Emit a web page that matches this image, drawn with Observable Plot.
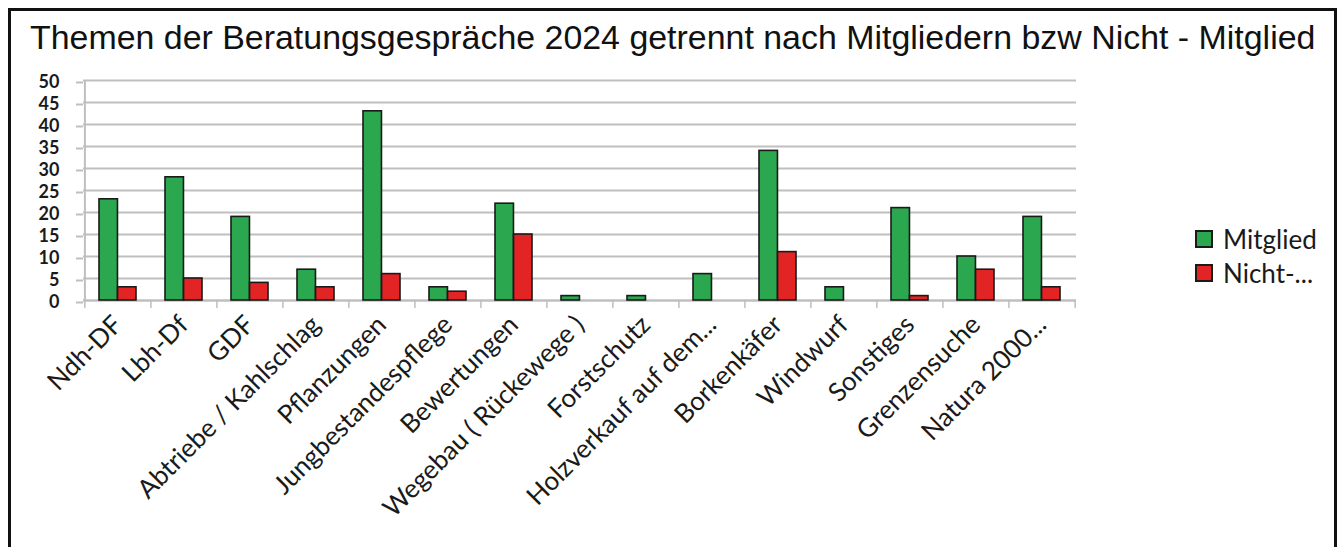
<!DOCTYPE html>
<html><head><meta charset="utf-8">
<script src="https://cdn.jsdelivr.net/npm/d3@7"></script>
<script src="https://cdn.jsdelivr.net/npm/@observablehq/plot@0.6"></script>
<style>
body{margin:0;background:#fff;}
#frame{position:relative;width:1340px;height:547px;overflow:hidden;background:#fff;}
#border{position:absolute;left:8px;top:8px;width:1329px;height:600px;border:3px solid #111;box-sizing:border-box;}
#title{position:absolute;left:30px;top:25px;font-family:"Liberation Sans",Arial,sans-serif;font-size:29px;line-height:29px;color:#111;white-space:nowrap;}
#chart{position:absolute;left:0;top:0;}
#legend{position:absolute;left:1195px;top:222px;font-family:Lato,sans-serif;font-size:26px;color:#1a1a1a;}
.item{display:flex;align-items:center;height:34px;}
.sw{width:14px;height:14px;border:2px solid #1a1a1a;margin-right:10px;}
</style>
</head><body>
<div id="frame">
  <div id="border"></div>
  <div id="title"></div>
  <div id="chart"></div>
  <div id="legend"></div>
</div>
<script>
const titleText = "Themen der Beratungsgespräche 2024 getrennt nach Mitgliedern bzw Nicht - Mitglied";
const categories = ["Ndh-DF","Lbh-Df","GDF","Abtriebe / Kahlschlag","Pflanzungen","Jungbestandespflege","Bewertungen","Wegebau ( Rückewege )","Forstschutz","Holzverkauf auf dem...","Borkenkäfer","Windwurf","Sonstiges","Grenzensuche","Natura 2000..."];
const mitglied      = [23,28,19,7,43,3,22,1,1,6,34,3,21,10,19];
const nichtMitglied = [3,5,4,3,6,2,15,0,0,0,11,0,1,7,3];
const seriesNames = ["Mitglied","Nicht-..."];
const seriesColors = ["#2ba84f","#e22424"];
const yTicks = [0,5,10,15,20,25,30,35,40,45,50];

// title, fitted to the reference width
const tEl = document.getElementById("title");
tEl.textContent = titleText;
const cvs = document.createElement("canvas").getContext("2d");
cvs.font = "29px 'Liberation Sans'";
const tw = cvs.measureText(titleText).width;
const fs = 29 * 1286 / tw;
tEl.style.fontSize = fs + "px";
tEl.style.lineHeight = fs + "px";
tEl.style.top = (50 - 0.8465 * fs) + "px";

const W = 1340, H = 547, mL = 83, mR = 264, mT = 80, mB = 247;
const step = (W - mL - mR) / categories.length;
const pad = 0.44;
const bw = step * (1 - pad);

const rows = categories.map((c, i) => ({category: c, m: mitglied[i], n: nichtMitglied[i]}));
const ink = "#1a1a1a", grid = "#bfbfbf";

const chart = Plot.plot({
  width: W, height: H,
  marginLeft: mL, marginRight: mR, marginTop: mT, marginBottom: mB,
  style: {fontFamily: "Lato, sans-serif", background: "transparent"},
  x: {domain: categories, paddingInner: pad, paddingOuter: pad / 2, axis: null},
  y: {domain: [0, 50], axis: null},
  marks: [
    Plot.gridY(yTicks, {stroke: grid, strokeOpacity: 1, strokeWidth: 2}),
    Plot.axisY(yTicks, {tickSize: 7, tickPadding: 17, stroke: grid, strokeWidth: 2, fill: ink, fontSize: 18, fontWeight: 700, dy: 2, label: null, tickFormat: d => String(d)}),
    Plot.ruleY([0], {stroke: grid, strokeWidth: 2}),
    Plot.ruleX([categories[0]], {x: d => d, y1: 0, y2: 50, dx: -step / 2, stroke: grid, strokeWidth: 2}),
    Plot.ruleX(categories, {x: d => d, y1: 0, y2: 0, insetBottom: -8, dx: -step / 2, stroke: grid, strokeWidth: 1.5}),
    Plot.ruleX([categories[categories.length - 1]], {x: d => d, y1: 0, y2: 0, insetBottom: -8, dx: step / 2, stroke: grid, strokeWidth: 1.5}),
    Plot.barY(rows.filter(d => d.m > 0), {x: "category", y: "m", fill: seriesColors[0], stroke: ink, strokeWidth: 1.6, insetRight: bw / 2}),
    Plot.barY(rows.filter(d => d.n > 0), {x: "category", y: "n", fill: seriesColors[1], stroke: ink, strokeWidth: 1.6, insetLeft: bw / 2}),
    Plot.axisX(categories, {tickSize: 0, tickRotate: -45, tickPadding: 20, fontSize: 26, fill: ink, label: null, dx: 0})
  ]
});
document.getElementById("chart").appendChild(chart);

const lg = document.getElementById("legend");
seriesNames.forEach((s, i) => {
  const it = document.createElement("div"); it.className = "item";
  const sw = document.createElement("div"); sw.className = "sw"; sw.style.background = seriesColors[i];
  const tx = document.createElement("span"); tx.textContent = s;
  it.appendChild(sw); it.appendChild(tx); lg.appendChild(it);
});
</script>
</body></html>
